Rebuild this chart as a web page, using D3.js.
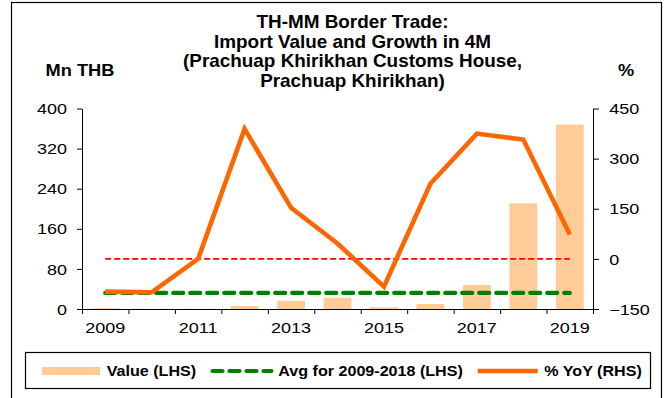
<!DOCTYPE html>
<html>
<head>
<meta charset="utf-8">
<script src="https://cdn.jsdelivr.net/npm/d3@7"></script>
<style>
  body { margin: 0; background: #fff; }
  text { font-family: "Liberation Sans", Arial, sans-serif; fill: #000; }
</style>
</head>
<body>
<svg id="chart" width="665" height="398"></svg>
<script>
// Import value (Mn THB) and year-on-year growth (%), Jan-Apr of each year
const years = [2009, 2010, 2011, 2012, 2013, 2014, 2015, 2016, 2017, 2018, 2019];
const importValue = [1.5, 0.5, 0.5, 6, 16.5, 22.5, 3.5, 10, 48, 211, 368];
const yoyGrowth = [-98, -100, 0, 389, 153, 46, -83, 225, 375, 357, 73];
const avgYears = [2009, 2018];
const leftTicks = [0, 80, 160, 240, 320, 400];
const rightTicks = [-150, 0, 150, 300, 450];
const xLabelYears = [2009, 2011, 2013, 2015, 2017, 2019];
const titleLines = [
  "TH-MM Border Trade:",
  "Import Value and Growth in 4M",
  "(Prachuap Khirikhan Customs House,",
  "Prachuap Khirikhan)"
];
const leftUnit = "Mn THB";
const rightUnit = "%";
const legendLabels = ["Value (LHS)", "Avg for 2009-2018 (LHS)", "% YoY (RHS)"];

const colors = { bar: "#FFCC99", avg: "#008000", zero: "#FF0000", yoy: "#FF6600" };

// average of the import value over the reference period
const avgValue = d3.mean(years.map((y, i) => [y, importValue[i]])
  .filter(d => d[0] >= avgYears[0] && d[0] <= avgYears[1]), d => d[1]);

const svg = d3.select("#chart");
const plot = { left: 82, right: 593, top: 108.5, bottom: 309 };

// stretched text helper: scales glyphs horizontally around the anchor point
function stretchedText(sel, x, y, str, opts) {
  return sel.append("text")
    .attr("transform", `translate(${x},${y}) scale(${opts.sx},1)`)
    .attr("text-anchor", opts.anchor || "start")
    .attr("font-size", opts.size)
    .attr("font-weight", opts.bold ? "bold" : "normal")
    .text(str);
}

// outer frame
svg.append("rect").attr("x", 11.5).attr("y", 2.5).attr("width", 650).attr("height", 420)
  .attr("fill", "#fff").attr("stroke", "#000").attr("stroke-width", 1.2);

// scales
const x = d3.scaleBand().domain(years).range([plot.left, plot.right])
  .paddingInner(0.4).paddingOuter(0.2);
const xEdge = d3.scaleLinear().domain([0, years.length]).range([plot.left, plot.right]);
const yL = d3.scaleLinear().domain([0, 400]).range([plot.bottom, plot.top]);
const yR = d3.scaleLinear().domain([-150, 450]).range([plot.bottom, plot.top]);
const cx = yr => x(yr) + x.bandwidth() / 2;

// bars
svg.append("g").selectAll("rect").data(years).join("rect")
  .attr("x", d => x(d))
  .attr("width", x.bandwidth())
  .attr("y", (d, i) => yL(importValue[i]))
  .attr("height", (d, i) => yL(0) - yL(importValue[i]))
  .attr("fill", colors.bar);

// zero-growth reference (RHS)
svg.append("line")
  .attr("x1", cx(years[0])).attr("x2", cx(years[years.length - 1]))
  .attr("y1", yR(0)).attr("y2", yR(0))
  .attr("stroke", colors.zero).attr("stroke-width", 1.6)
  .attr("stroke-dasharray", "6,3");

// average value (LHS)
svg.append("line")
  .attr("x1", cx(years[0])).attr("x2", cx(years[years.length - 1]))
  .attr("y1", yL(avgValue)).attr("y2", yL(avgValue))
  .attr("stroke", colors.avg).attr("stroke-width", 4.2)
  .attr("stroke-linecap", "round")
  .attr("stroke-dasharray", "10,7");

// YoY growth line (RHS)
svg.append("path")
  .datum(years.map((y, i) => [cx(y), yR(yoyGrowth[i])]))
  .attr("d", d3.line())
  .attr("fill", "none").attr("stroke", colors.yoy)
  .attr("stroke-width", 4.6).attr("stroke-linejoin", "miter");

// axes
const axisStyle = g => {
  g.selectAll("path, line").attr("stroke", "#000").attr("stroke-width", 1);
  g.selectAll("text").attr("font-size", 14.4).attr("fill", "#000")
    .attr("font-family", '"Liberation Sans", Arial, sans-serif');
};

const gL = svg.append("g").attr("transform", `translate(${plot.left},0)`)
  .call(d3.axisLeft(yL).tickValues(leftTicks).tickSize(5).tickSizeOuter(0).tickPadding(10))
  .call(axisStyle);
gL.selectAll(".tick text").attr("transform", "scale(1.25,1)").attr("x", -12).attr("dy", "0.36em");

const gR = svg.append("g").attr("transform", `translate(${plot.right},0)`)
  .call(d3.axisRight(yR).tickValues(rightTicks).tickSize(6).tickSizeOuter(0).tickPadding(10))
  .call(axisStyle);
gR.selectAll(".tick text").attr("transform", "scale(1.25,1)").attr("x", 13).attr("dy", "0.36em");

svg.append("g").attr("transform", `translate(0,${plot.bottom})`)
  .call(d3.axisBottom(xEdge).tickValues(d3.range(years.length + 1)).tickFormat("")
    .tickSize(5).tickSizeOuter(0))
  .call(axisStyle);

const gX = svg.append("g").attr("transform", `translate(0,${plot.bottom})`)
  .call(d3.axisBottom(x).tickValues(xLabelYears).tickSize(0).tickPadding(14))
  .call(axisStyle);
gX.select(".domain").remove();
gX.selectAll(".tick text").attr("transform", "scale(1.25,1)").attr("dy", "0.71em");

// title and unit labels
titleLines.forEach((t, i) => {
  stretchedText(svg, 352.5, 28 + i * 19.5, t, { sx: 1.05, size: 18, bold: true, anchor: "middle" });
});
stretchedText(svg, 80, 76, leftUnit, { sx: 1.14, size: 16, bold: true, anchor: "middle" });
stretchedText(svg, 626, 76, rightUnit, { sx: 1.14, size: 16, bold: true, anchor: "middle" });

// legend
const lg = svg.append("g");
lg.append("rect").attr("x", 25.5).attr("y", 352.5).attr("width", 625).attr("height", 36)
  .attr("fill", "#fff").attr("stroke", "#000").attr("stroke-width", 1.2);
const ly = 371;
lg.append("rect").attr("x", 41.7).attr("y", ly - 4).attr("width", 58.3).attr("height", 8)
  .attr("fill", colors.bar);
lg.append("line").attr("x1", 212.5).attr("x2", 271.5).attr("y1", ly).attr("y2", ly)
  .attr("stroke", colors.avg).attr("stroke-width", 4.2).attr("stroke-linecap", "round")
  .attr("stroke-dasharray", "10,7");
lg.append("line").attr("x1", 477.7).attr("x2", 537.7).attr("y1", ly).attr("y2", ly)
  .attr("stroke", colors.yoy).attr("stroke-width", 4.6);
const legendX = [106.7, 278.3, 544.3];
legendLabels.forEach((t, i) => {
  stretchedText(lg, legendX[i], ly + 5, t, { sx: 1.15, size: 14, bold: true });
});
</script>
</body>
</html>
